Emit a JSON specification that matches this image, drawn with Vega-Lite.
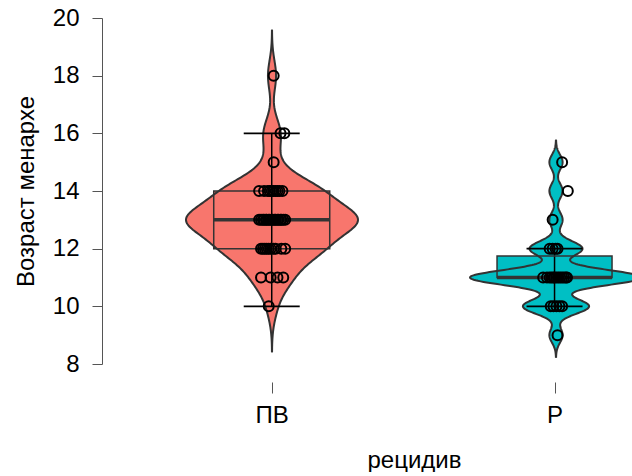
{
  "$schema": "https://vega.github.io/schema/vega-lite/v6.json",
  "padding": {"left": 14, "top": 6, "right": 0, "bottom": 0},
  "spacing": 0,
  "bounds": "flush",
  "config": {
    "view": {"stroke": null},
    "font": "Liberation Sans",
    "axis": {"labelFontSize": 24, "titleFontSize": 24, "labelColor": "black", "titleColor": "black", "titleFontWeight": "normal", "domainColor": "#555555", "tickColor": "#555555", "grid": false, "labelFont": "Liberation Sans", "titleFont": "Liberation Sans"}
  },
  "datasets": {
    "pts": [
      {"group": "ПВ", "age": 10, "jitter": -0.011},
      {"group": "ПВ", "age": 11, "jitter": -0.039},
      {"group": "ПВ", "age": 11, "jitter": -0.004},
      {"group": "ПВ", "age": 11, "jitter": 0.021},
      {"group": "ПВ", "age": 11, "jitter": 0.042},
      {"group": "ПВ", "age": 12, "jitter": -0.039},
      {"group": "ПВ", "age": 12, "jitter": -0.032},
      {"group": "ПВ", "age": 12, "jitter": -0.025},
      {"group": "ПВ", "age": 12, "jitter": -0.018},
      {"group": "ПВ", "age": 12, "jitter": -0.011},
      {"group": "ПВ", "age": 12, "jitter": -0.004},
      {"group": "ПВ", "age": 12, "jitter": 0.007},
      {"group": "ПВ", "age": 12, "jitter": 0.014},
      {"group": "ПВ", "age": 12, "jitter": 0.035},
      {"group": "ПВ", "age": 12, "jitter": 0.049},
      {"group": "ПВ", "age": 13, "jitter": -0.046},
      {"group": "ПВ", "age": 13, "jitter": -0.039},
      {"group": "ПВ", "age": 13, "jitter": -0.032},
      {"group": "ПВ", "age": 13, "jitter": -0.028},
      {"group": "ПВ", "age": 13, "jitter": -0.021},
      {"group": "ПВ", "age": 13, "jitter": -0.018},
      {"group": "ПВ", "age": 13, "jitter": -0.011},
      {"group": "ПВ", "age": 13, "jitter": -0.007},
      {"group": "ПВ", "age": 13, "jitter": 0},
      {"group": "ПВ", "age": 13, "jitter": 0.004},
      {"group": "ПВ", "age": 13, "jitter": 0.011},
      {"group": "ПВ", "age": 13, "jitter": 0.014},
      {"group": "ПВ", "age": 13, "jitter": 0.021},
      {"group": "ПВ", "age": 13, "jitter": 0.025},
      {"group": "ПВ", "age": 13, "jitter": 0.032},
      {"group": "ПВ", "age": 13, "jitter": 0.035},
      {"group": "ПВ", "age": 13, "jitter": 0.042},
      {"group": "ПВ", "age": 13, "jitter": 0.049},
      {"group": "ПВ", "age": 14, "jitter": -0.046},
      {"group": "ПВ", "age": 14, "jitter": -0.028},
      {"group": "ПВ", "age": 14, "jitter": -0.014},
      {"group": "ПВ", "age": 14, "jitter": -0.007},
      {"group": "ПВ", "age": 14, "jitter": 0},
      {"group": "ПВ", "age": 14, "jitter": 0.007},
      {"group": "ПВ", "age": 14, "jitter": 0.014},
      {"group": "ПВ", "age": 14, "jitter": 0.021},
      {"group": "ПВ", "age": 14, "jitter": 0.028},
      {"group": "ПВ", "age": 14, "jitter": 0.039},
      {"group": "ПВ", "age": 15, "jitter": 0.007},
      {"group": "ПВ", "age": 16, "jitter": 0.032},
      {"group": "ПВ", "age": 16, "jitter": 0.046},
      {"group": "ПВ", "age": 18, "jitter": 0.007},
      {"group": "Р", "age": 9, "jitter": 0.011},
      {"group": "Р", "age": 10, "jitter": -0.014},
      {"group": "Р", "age": 10, "jitter": -0.004},
      {"group": "Р", "age": 10, "jitter": 0.007},
      {"group": "Р", "age": 10, "jitter": 0.018},
      {"group": "Р", "age": 10, "jitter": 0.028},
      {"group": "Р", "age": 11, "jitter": -0.042},
      {"group": "Р", "age": 11, "jitter": -0.028},
      {"group": "Р", "age": 11, "jitter": -0.018},
      {"group": "Р", "age": 11, "jitter": -0.011},
      {"group": "Р", "age": 11, "jitter": -0.004},
      {"group": "Р", "age": 11, "jitter": 0},
      {"group": "Р", "age": 11, "jitter": 0.007},
      {"group": "Р", "age": 11, "jitter": 0.014},
      {"group": "Р", "age": 11, "jitter": 0.021},
      {"group": "Р", "age": 11, "jitter": 0.028},
      {"group": "Р", "age": 11, "jitter": 0.035},
      {"group": "Р", "age": 11, "jitter": 0.042},
      {"group": "Р", "age": 11, "jitter": 0.046},
      {"group": "Р", "age": 12, "jitter": -0.018},
      {"group": "Р", "age": 12, "jitter": -0.007},
      {"group": "Р", "age": 12, "jitter": 0.004},
      {"group": "Р", "age": 12, "jitter": 0.011},
      {"group": "Р", "age": 13, "jitter": -0.007},
      {"group": "Р", "age": 14, "jitter": 0.049},
      {"group": "Р", "age": 15, "jitter": 0.028}
    ],
    "box": [
      {"group": "ПВ", "lo": 10, "q1": 12, "med": 13, "q3": 14, "hi": 16},
      {"group": "Р", "lo": 10, "q1": 11, "med": 11, "q3": 11.75, "hi": 12}
    ]
  },
  "hconcat": [
    {
      "width": 312,
      "height": 346,
      "resolve": {"scale": {"x": "independent"}},
      "layer": [
        {
          "data": {"name": "box"},
          "transform": [{"filter": "datum.group === 'ПВ'"}],
          "mark": {"type": "bar", "width": 116, "fill": "#F8766D", "strokeWidth": 0},
          "encoding": {
            "x": {"datum": 0, "type": "quantitative", "scale": {"domain": [-0.6, 0.5], "nice": false, "zero": false}, "axis": null},
            "y": {"field": "q1", "type": "quantitative", "scale": {"domain": [8, 20], "nice": false, "zero": false}, "axis": {"title": "Возраст менархе", "values": [8, 10, 12, 14, 16, 18, 20], "tickSize": 10, "labelPadding": 13, "titlePadding": 14}},
            "y2": {"field": "q3"}
          }
        },
        {
          "data": {"name": "pts"},
          "transform": [{"filter": "datum.group === 'ПВ'"}, {"density": "age", "bandwidth": 0.53, "extent": [8.41, 19.59], "steps": 300}],
          "layer": [
            {
              "mark": {"type": "area", "orient": "horizontal", "fill": "#F8766D"},
              "encoding": {
                "x": {"field": "density", "type": "quantitative", "scale": {"range": [170, 84], "nice": false, "zero": true}, "axis": null},
                "x2": {"datum": 0},
                "y": {"field": "value", "type": "quantitative", "scale": {"domain": [8, 20], "nice": false, "zero": false}, "axis": {"title": "Возраст менархе", "values": [8, 10, 12, 14, 16, 18, 20], "tickSize": 10, "labelPadding": 13, "titlePadding": 14}}
              }
            },
            {
              "mark": {"type": "line", "stroke": "#333333", "strokeWidth": 2},
              "encoding": {
                "x": {"field": "density", "type": "quantitative", "scale": {"range": [170, 84], "nice": false, "zero": true}, "axis": null},
                "y": {"field": "value", "type": "quantitative", "scale": {"domain": [8, 20], "nice": false, "zero": false}, "axis": {"title": "Возраст менархе", "values": [8, 10, 12, 14, 16, 18, 20], "tickSize": 10, "labelPadding": 13, "titlePadding": 14}},
                "order": {"field": "value", "type": "quantitative"}
              }
            }
          ]
        },
        {
          "data": {"name": "pts"},
          "transform": [{"filter": "datum.group === 'ПВ'"}, {"density": "age", "bandwidth": 0.53, "extent": [8.41, 19.59], "steps": 300}],
          "layer": [
            {
              "mark": {"type": "area", "orient": "horizontal", "fill": "#F8766D"},
              "encoding": {
                "x": {"field": "density", "type": "quantitative", "scale": {"range": [170, 256], "nice": false, "zero": true}, "axis": null},
                "x2": {"datum": 0},
                "y": {"field": "value", "type": "quantitative", "scale": {"domain": [8, 20], "nice": false, "zero": false}, "axis": {"title": "Возраст менархе", "values": [8, 10, 12, 14, 16, 18, 20], "tickSize": 10, "labelPadding": 13, "titlePadding": 14}}
              }
            },
            {
              "mark": {"type": "line", "stroke": "#333333", "strokeWidth": 2},
              "encoding": {
                "x": {"field": "density", "type": "quantitative", "scale": {"range": [170, 256], "nice": false, "zero": true}, "axis": null},
                "y": {"field": "value", "type": "quantitative", "scale": {"domain": [8, 20], "nice": false, "zero": false}, "axis": {"title": "Возраст менархе", "values": [8, 10, 12, 14, 16, 18, 20], "tickSize": 10, "labelPadding": 13, "titlePadding": 14}},
                "order": {"field": "value", "type": "quantitative"}
              }
            }
          ]
        },
        {
          "layer": [
            {
              "data": {"name": "box"},
              "transform": [{"filter": "datum.group === 'ПВ'"}],
              "mark": {"type": "rule", "stroke": "black", "strokeWidth": 1.5},
              "encoding": {
                "x": {"datum": 0, "type": "quantitative", "scale": {"domain": [-0.6, 0.5], "nice": false, "zero": false}, "axis": {"values": [0], "labelExpr": "'ПВ'", "domain": false, "grid": false, "ticks": true, "tickSize": 11, "offset": 18, "labelPadding": 10, "labelFlush": false, "title": "рецидив", "titleX": 312, "titleAlign": "center", "titlePadding": 21}},
                "y": {"field": "lo", "type": "quantitative", "scale": {"domain": [8, 20], "nice": false, "zero": false}, "axis": {"title": "Возраст менархе", "values": [8, 10, 12, 14, 16, 18, 20], "tickSize": 10, "labelPadding": 13, "titlePadding": 14}},
                "y2": {"field": "hi"}
              }
            },
            {
              "data": {"name": "box"},
              "transform": [{"filter": "datum.group === 'ПВ'"}],
              "mark": {"type": "bar", "width": 116, "fill": "transparent", "stroke": "#333333", "strokeWidth": 1.5},
              "encoding": {
                "x": {"datum": 0, "type": "quantitative"},
                "y": {"field": "q1", "type": "quantitative"},
                "y2": {"field": "q3"}
              }
            },
            {
              "data": {"name": "box"},
              "transform": [{"filter": "datum.group === 'ПВ'"}],
              "mark": {"type": "tick", "orient": "horizontal", "size": 116, "thickness": 3.5, "color": "#333333", "opacity": 1},
              "encoding": {
                "x": {"datum": 0, "type": "quantitative"},
                "y": {"field": "med", "type": "quantitative"}
              }
            },
            {
              "data": {"name": "box"},
              "transform": [{"filter": "datum.group === 'ПВ'"}],
              "mark": {"type": "tick", "orient": "horizontal", "size": 56, "thickness": 1.6, "color": "black", "opacity": 1},
              "encoding": {
                "x": {"datum": 0, "type": "quantitative"},
                "y": {"field": "lo", "type": "quantitative"}
              }
            },
            {
              "data": {"name": "box"},
              "transform": [{"filter": "datum.group === 'ПВ'"}],
              "mark": {"type": "tick", "orient": "horizontal", "size": 56, "thickness": 1.6, "color": "black", "opacity": 1},
              "encoding": {
                "x": {"datum": 0, "type": "quantitative"},
                "y": {"field": "hi", "type": "quantitative"}
              }
            },
            {
              "data": {"name": "pts"},
              "transform": [{"filter": "datum.group === 'ПВ'"}],
              "mark": {"type": "point", "shape": "circle", "size": 100, "strokeWidth": 2, "stroke": "black", "filled": false, "opacity": 1},
              "encoding": {
                "x": {"field": "jitter", "type": "quantitative"},
                "y": {"field": "age", "type": "quantitative"}
              }
            }
          ]
        }
      ]
    },
    {
      "width": 219,
      "height": 346,
      "resolve": {"scale": {"x": "independent"}},
      "layer": [
        {
          "data": {"name": "box"},
          "transform": [{"filter": "datum.group === 'Р'"}],
          "mark": {"type": "bar", "width": 115, "fill": "#00BFC4", "strokeWidth": 0},
          "encoding": {
            "x": {"datum": 0, "type": "quantitative", "scale": {"domain": [-0.5, 0.271], "nice": false, "zero": false}, "axis": null},
            "y": {"field": "q1", "type": "quantitative", "scale": {"domain": [8, 20], "nice": false, "zero": false}, "axis": null},
            "y2": {"field": "q3"}
          }
        },
        {
          "data": {"name": "pts"},
          "transform": [{"filter": "datum.group === 'Р'"}, {"density": "age", "bandwidth": 0.26, "extent": [8.22, 15.78], "steps": 400}],
          "layer": [
            {
              "mark": {"type": "area", "orient": "horizontal", "fill": "#00BFC4"},
              "encoding": {
                "x": {"field": "density", "type": "quantitative", "scale": {"range": [142, 56], "nice": false, "zero": true}, "axis": null},
                "x2": {"datum": 0},
                "y": {"field": "value", "type": "quantitative", "scale": {"domain": [8, 20], "nice": false, "zero": false}, "axis": null}
              }
            },
            {
              "mark": {"type": "line", "stroke": "#333333", "strokeWidth": 2},
              "encoding": {
                "x": {"field": "density", "type": "quantitative", "scale": {"range": [142, 56], "nice": false, "zero": true}, "axis": null},
                "y": {"field": "value", "type": "quantitative", "scale": {"domain": [8, 20], "nice": false, "zero": false}, "axis": null},
                "order": {"field": "value", "type": "quantitative"}
              }
            }
          ]
        },
        {
          "data": {"name": "pts"},
          "transform": [{"filter": "datum.group === 'Р'"}, {"density": "age", "bandwidth": 0.26, "extent": [8.22, 15.78], "steps": 400}],
          "layer": [
            {
              "mark": {"type": "area", "orient": "horizontal", "fill": "#00BFC4"},
              "encoding": {
                "x": {"field": "density", "type": "quantitative", "scale": {"range": [142, 228], "nice": false, "zero": true}, "axis": null},
                "x2": {"datum": 0},
                "y": {"field": "value", "type": "quantitative", "scale": {"domain": [8, 20], "nice": false, "zero": false}, "axis": null}
              }
            },
            {
              "mark": {"type": "line", "stroke": "#333333", "strokeWidth": 2},
              "encoding": {
                "x": {"field": "density", "type": "quantitative", "scale": {"range": [142, 228], "nice": false, "zero": true}, "axis": null},
                "y": {"field": "value", "type": "quantitative", "scale": {"domain": [8, 20], "nice": false, "zero": false}, "axis": null},
                "order": {"field": "value", "type": "quantitative"}
              }
            }
          ]
        },
        {
          "layer": [
            {
              "data": {"name": "box"},
              "transform": [{"filter": "datum.group === 'Р'"}],
              "mark": {"type": "rule", "stroke": "black", "strokeWidth": 1.5},
              "encoding": {
                "x": {"datum": 0, "type": "quantitative", "scale": {"domain": [-0.5, 0.271], "nice": false, "zero": false}, "axis": {"values": [0], "labelExpr": "'Р'", "domain": false, "grid": false, "ticks": true, "tickSize": 11, "offset": 18, "labelPadding": 10, "labelFlush": false, "title": null}},
                "y": {"field": "lo", "type": "quantitative", "scale": {"domain": [8, 20], "nice": false, "zero": false}, "axis": null},
                "y2": {"field": "hi"}
              }
            },
            {
              "data": {"name": "box"},
              "transform": [{"filter": "datum.group === 'Р'"}],
              "mark": {"type": "bar", "width": 115, "fill": "transparent", "stroke": "#333333", "strokeWidth": 1.5},
              "encoding": {
                "x": {"datum": 0, "type": "quantitative"},
                "y": {"field": "q1", "type": "quantitative"},
                "y2": {"field": "q3"}
              }
            },
            {
              "data": {"name": "box"},
              "transform": [{"filter": "datum.group === 'Р'"}],
              "mark": {"type": "tick", "orient": "horizontal", "size": 115, "thickness": 3.5, "color": "#333333", "opacity": 1},
              "encoding": {
                "x": {"datum": 0, "type": "quantitative"},
                "y": {"field": "med", "type": "quantitative"}
              }
            },
            {
              "data": {"name": "box"},
              "transform": [{"filter": "datum.group === 'Р'"}],
              "mark": {"type": "tick", "orient": "horizontal", "size": 56, "thickness": 1.6, "color": "black", "opacity": 1},
              "encoding": {
                "x": {"datum": 0, "type": "quantitative"},
                "y": {"field": "lo", "type": "quantitative"}
              }
            },
            {
              "data": {"name": "box"},
              "transform": [{"filter": "datum.group === 'Р'"}],
              "mark": {"type": "tick", "orient": "horizontal", "size": 56, "thickness": 1.6, "color": "black", "opacity": 1},
              "encoding": {
                "x": {"datum": 0, "type": "quantitative"},
                "y": {"field": "hi", "type": "quantitative"}
              }
            },
            {
              "data": {"name": "pts"},
              "transform": [{"filter": "datum.group === 'Р'"}],
              "mark": {"type": "point", "shape": "circle", "size": 100, "strokeWidth": 2, "stroke": "black", "filled": false, "opacity": 1},
              "encoding": {
                "x": {"field": "jitter", "type": "quantitative"},
                "y": {"field": "age", "type": "quantitative"}
              }
            }
          ]
        }
      ]
    }
  ]
}
